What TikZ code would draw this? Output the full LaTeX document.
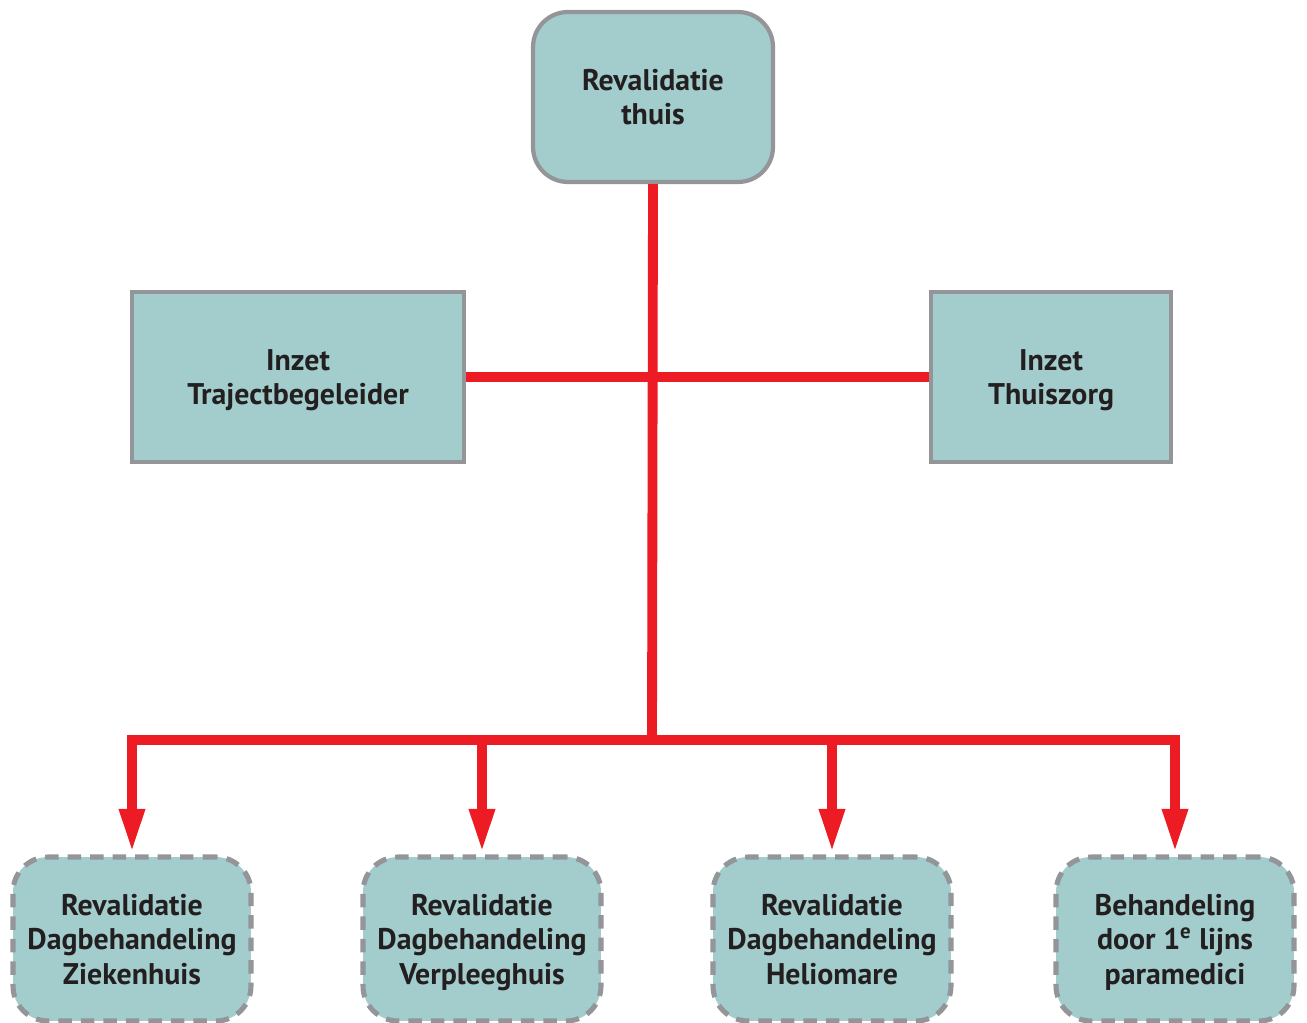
\documentclass[tikz,border=0pt]{standalone}
\usepackage{fontspec}
\setmainfont{PT Sans}
\usepackage{tikz}
\usetikzlibrary{arrows.meta,positioning,calc}
\definecolor{boxteal}{HTML}{A2CDCC}
\definecolor{boxgrey}{HTML}{939598}
\definecolor{linkred}{HTML}{ED1C24}
\definecolor{inkdark}{HTML}{231F20}
\tikzset{
  box/.style        = {draw=boxgrey, line width=2.4pt, fill=boxteal, align=center,
                       inner sep=2pt, text=inkdark, text depth=-8.5pt,
                       execute at begin node=\strut},
  home/.style       = {box, rounded corners=0.7cm, minimum width=4.8cm, minimum height=3.4cm},
  support/.style    = {box, minimum height=3.4cm},
  option/.style     = {box, rounded corners=0.7cm, line width=2.9pt, dash pattern=on 7.6pt off 5.2pt,
                       minimum width=4.76cm, minimum height=3.28cm},
  wire/.style       = {draw=linkred, line width=5.6pt},
  sig/.style        = {wire, -{Triangle[length=25pt, width=13.5pt]}},
  every node/.style = {font=\fontsize{17}{19.6}\selectfont\bfseries},
}
\begin{document}
\begin{tikzpicture}[x=0.02cm, y=-0.02cm]
  \useasboundingbox (0,0) rectangle (1307,1023);
  % top and the two support boxes
  \node[home] (thuis) at (653,97) {Revalidatie\\thuis};
  \node[support, minimum width=6.64cm] (traject) at (298,377) {Inzet\\Trajectbegeleider};
  \node[support, minimum width=4.8cm] (zorg) at (1051,377) {Inzet\\Thuiszorg};
  % bottom row
  \node[option] (zkh) at (132,939) {Revalidatie\\Dagbehandeling\\Ziekenhuis};
  \node[option] (vph) at (482,939) {Revalidatie\\Dagbehandeling\\Verpleeghuis};
  \node[option] (helio) at (832,939) {Revalidatie\\Dagbehandeling\\Heliomare};
  \node[option] (para) at (1175,939) {Behandeling\\door 1\textsuperscript{e} lijns\\paramedici};
  \coordinate (bus) at (652,740);
  \draw[wire] (traject.east) -- (zorg.west);
  \draw[wire] (thuis.south) -- (bus);
  \draw[sig] (bus) -| ([yshift=1pt]zkh.north);
  \draw[sig] (bus) -| ([yshift=1pt]vph.north);
  \draw[sig] (bus) -| ([yshift=1pt]helio.north);
  \draw[sig] (bus) -| ([yshift=1pt]para.north);
\end{tikzpicture}
\end{document}
